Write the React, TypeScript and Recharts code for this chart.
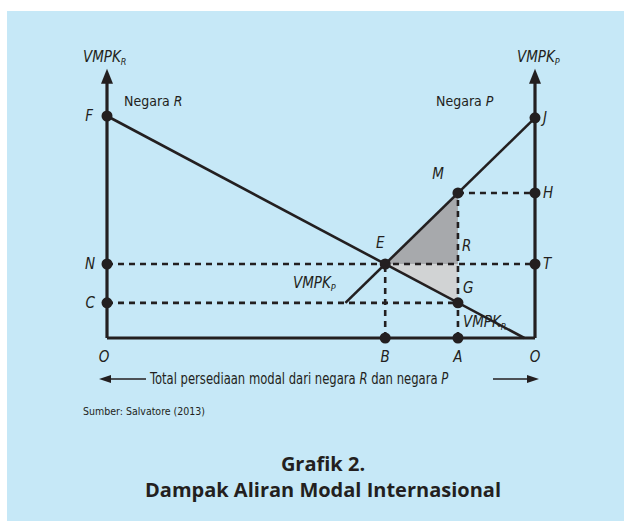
import { ComposedChart, Line, Area, Scatter, XAxis, YAxis } from 'recharts'

// capital stock on x (0..100), marginal product value on y
const VMPK_R_LINE = [{ x: 0, y: 60 }, { x: 97.5, y: 0 }]
const VMPK_P_LINE = [{ x: 55.7, y: 9.5 }, { x: 100, y: 59.5 }]

const AXIS_LEFT = [{ x: 0, y: 0 }, { x: 0, y: 69 }]
const AXIS_RIGHT = [{ x: 100, y: 0 }, { x: 100, y: 69 }]
const AXIS_BASE = [{ x: 0, y: 0 }, { x: 100, y: 0 }]
const ARROW_TIPS = [{ x: 0, y: 69 }, { x: 100, y: 69 }]

const DASH_NT = [{ x: 0, y: 20 }, { x: 100, y: 20 }]
const DASH_CG = [{ x: 0, y: 9.5 }, { x: 82, y: 9.5 }]
const DASH_MH = [{ x: 82, y: 39.2 }, { x: 100, y: 39.2 }]
const DASH_B = [{ x: 65, y: 0 }, { x: 65, y: 20 }]
const DASH_A = [{ x: 82, y: 0 }, { x: 82, y: 39.2 }]

const GAIN_P = [{ x: 65, y: 20 }, { x: 82, y: 39.2 }]
const LOSS_R = [{ x: 65, y: 20 }, { x: 82, y: 9.5 }]

const POINTS = [
  { id: 'F', x: 0, y: 60 },
  { id: 'N', x: 0, y: 20 },
  { id: 'C', x: 0, y: 9.5 },
  { id: 'J', x: 100, y: 59.5 },
  { id: 'H', x: 100, y: 39.2 },
  { id: 'T', x: 100, y: 20 },
  { id: 'M', x: 82, y: 39.2 },
  { id: 'E', x: 65, y: 20 },
  { id: 'G', x: 82, y: 9.5 },
  { id: 'B', x: 65, y: 0 },
  { id: 'A', x: 82, y: 0 },
]

const LETTERS = [
  ...POINTS,
  { id: 'R', x: 82, y: 20 },
  { id: 'O', x: 0, y: 0 },
  { id: 'O2', x: 100, y: 0 },
]

// where each letter sits relative to its point
const OFFSETS: Record<string, [number, number, string]> = {
  F: [-14, 0, 'end'], N: [-12, 0, 'end'], C: [-12, 0, 'end'],
  J: [8, 0, 'start'], H: [8, 0, 'start'], T: [8, 0, 'start'],
  M: [-20, -19, 'middle'], E: [-5, -21, 'middle'],
  R: [4, -18, 'start'], G: [5, -15, 'start'],
  B: [0, 19, 'middle'], A: [0, 19, 'middle'],
  O: [-3, 19, 'middle'], O2: [0, 19, 'middle'],
}

const INK = '#231f20'
const NARROW = '"Liberation Sans Narrow", "DejaVu Sans Condensed", sans-serif'
const BOLD = '"Open Sans", "Noto Sans", sans-serif'

function Dot(p: any) {
  return <circle cx={p.cx} cy={p.cy} r={5.5} fill={INK} />
}

function ArrowHead(p: any) {
  const { cx, cy } = p
  return <polygon points={`${cx - 6},${cy + 1} ${cx + 6},${cy + 1} ${cx},${cy - 14}`} fill={INK} />
}

function Letter(p: any) {
  const id = p.payload.id as string
  const [dx, dy, anchor] = OFFSETS[id]
  return (
    <text x={p.cx + dx} y={p.cy + dy} textAnchor={anchor} dominantBaseline="central"
      fontFamily={NARROW} fontStyle="italic" fontSize={15} fill={INK}>
      {id === 'O2' ? 'O' : id}
    </text>
  )
}

function Txt({ left, top, size = 14, style, children }: any) {
  return (
    <div style={{
      position: 'absolute', left, top: top - size / 2 - 1, fontSize: size, lineHeight: `${size + 2}px`,
      fontFamily: NARROW, color: INK, whiteSpace: 'nowrap', ...style,
    }}>{children}</div>
  )
}

const Vm = ({ s }: { s: string }) => (
  <i>VMPK<sub style={{ fontSize: 9, verticalAlign: -3 }}>{s}</sub></i>
)

export default function App() {
  const dashed = { stroke: INK, strokeWidth: 2.6, strokeDasharray: '6 5', dot: false, isAnimationActive: false }
  const solid = { stroke: INK, dot: false, isAnimationActive: false }
  return (
    <div style={{ position: 'absolute', left: 0, top: 0, width: 624, height: 521, background: '#fff', overflow: 'hidden' }}>
      <div style={{ position: 'absolute', left: 7, top: 11, width: 617, height: 510, background: '#c6e8f7' }} />
      <div style={{ position: 'absolute', left: 0, top: 0 }}>
        <ComposedChart width={624} height={521} margin={{ top: 79, right: 89, bottom: 183, left: 107 }}>
          <XAxis type="number" dataKey="x" domain={[0, 100]} hide />
          <YAxis type="number" dataKey="y" domain={[0, 70]} hide />
          <Area data={GAIN_P} dataKey="y" type="linear" baseValue={20} fill="#a7a9ac" fillOpacity={1} stroke="none" isAnimationActive={false} />
          <Area data={LOSS_R} dataKey="y" type="linear" baseValue={20} fill="#d1d3d4" fillOpacity={1} stroke="none" isAnimationActive={false} />
          <Line data={DASH_NT} dataKey="y" {...dashed} />
          <Line data={DASH_CG} dataKey="y" {...dashed} />
          <Line data={DASH_MH} dataKey="y" {...dashed} />
          <Line data={DASH_B} dataKey="y" {...dashed} />
          <Line data={DASH_A} dataKey="y" {...dashed} />
          <Line data={VMPK_R_LINE} dataKey="y" strokeWidth={2.6} {...solid} />
          <Line data={VMPK_P_LINE} dataKey="y" strokeWidth={2.6} {...solid} />
          <Line data={AXIS_LEFT} dataKey="y" strokeWidth={3.2} {...solid} />
          <Line data={AXIS_RIGHT} dataKey="y" strokeWidth={3.2} {...solid} />
          <Line data={AXIS_BASE} dataKey="y" strokeWidth={3.2} {...solid} />
          <Scatter data={ARROW_TIPS} shape={ArrowHead} isAnimationActive={false} />
          <Scatter data={POINTS} shape={Dot} isAnimationActive={false} />
          <Scatter data={LETTERS} shape={Letter} isAnimationActive={false} />
        </ComposedChart>
      </div>

      <Txt left={83} top={57} size={15}><Vm s="R" /></Txt>
      <Txt left={517} top={57} size={15}><Vm s="P" /></Txt>
      <Txt left={124} top={101}>Negara <i>R</i></Txt>
      <Txt left={436} top={101}>Negara <i>P</i></Txt>
      <Txt left={293} top={283} size={15}><Vm s="P" /></Txt>
      <Txt left={463} top={322} size={15}><Vm s="R" /></Txt>

      <svg style={{ position: 'absolute', left: 0, top: 0 }} width={624} height={521}>
        <line x1={108} y1={379} x2={146} y2={379} stroke={INK} strokeWidth={1.6} />
        <polygon points="99,379 111,375 111,383" fill={INK} />
        <line x1={493} y1={379} x2={530} y2={379} stroke={INK} strokeWidth={1.6} />
        <polygon points="539,379 527,375 527,383" fill={INK} />
      </svg>
      <Txt left={150} top={379} size={15} style={{ transform: 'scaleX(0.86)', transformOrigin: 'left center' }}>
        Total persediaan modal dari negara <i>R</i> dan negara <i>P</i>
      </Txt>
      <Txt left={83} top={411} size={10.5}>Sumber: Salvatore (2013)</Txt>

      <div style={{ position: 'absolute', left: 0, width: 646, top: 451, textAlign: 'center', fontFamily: BOLD, fontWeight: 700, fontSize: 20, lineHeight: '26px', color: INK }}>
        Grafik 2.<br />Dampak Aliran Modal Internasional
      </div>
    </div>
  )
}
